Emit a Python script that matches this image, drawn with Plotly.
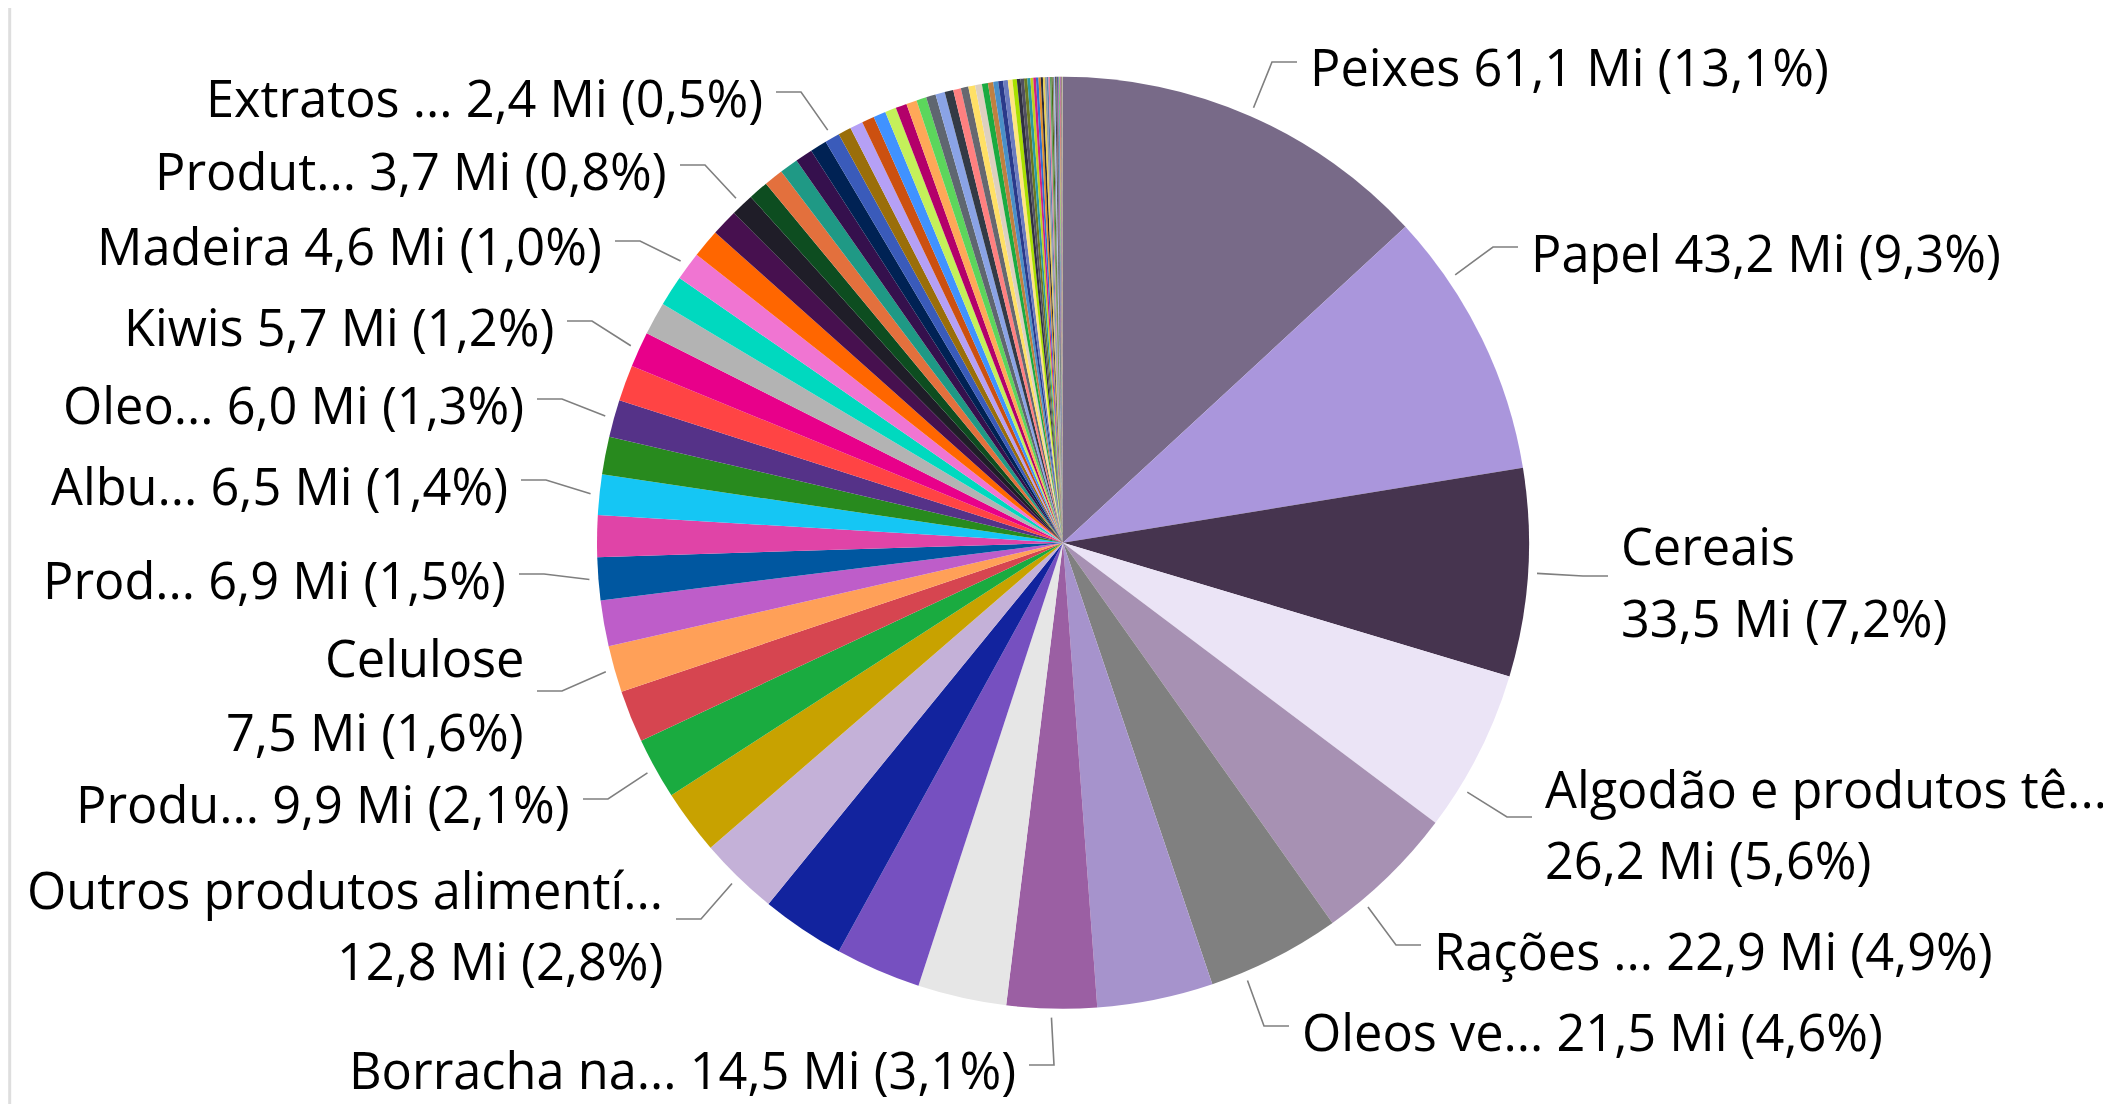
import math
import plotly.graph_objects as go

W, H = 2111, 1104
MARGEM = 8  # margem padrão do <body> na página gerada
FW, FH = W - MARGEM, H - MARGEM

# valores em milhões, na ordem das fatias (sentido horário a partir do topo)
valores = [61.1, 43.2, 33.5, 26.2, 22.9, 21.5, 18.7, 14.5, 14.3, 13.8,
           13.5, 12.84, 10.4, 9.9, 8.4, 7.5, 7.4, 6.9, 6.7, 6.5,
           6.1, 6.0, 5.8, 5.7, 5.3, 4.9, 4.6, 4.6, 4.3, 3.7,
           3.2, 3.1, 3.0, 2.8, 2.7, 2.4, 2.1, 2.1, 2.0, 2.0,
           1.8, 1.8, 1.7, 1.6, 1.55, 1.5, 1.4, 1.25, 1.2, 1.1,
           1.1, 0.97, 0.85, 0.8, 0.78, 0.76, 0.74, 0.7, 0.6, 0.55,
           0.52, 0.5, 0.46, 0.42, 0.4, 0.37, 0.34, 0.31, 0.29, 0.27,
           0.25, 0.23, 0.21, 0.2, 0.19, 0.17, 0.15, 0.13, 0.13, 0.12,
           0.1, 0.09, 0.08, 0.07, 0.06, 0.05, 0.04, 0.03, 0.02, 0.01]

# nomes como aparecem (truncados) nos rótulos; índice -> nome
nomes = {0: "Peixes", 1: "Papel", 2: "Cereais", 3: "Algodão e produtos tê...",
         4: "Rações ...", 5: "Oleos ve...", 7: "Borracha na...",
         11: "Outros produtos alimentí...", 13: "Produ...", 15: "Celulose",
         17: "Prod...", 19: "Albu...", 21: "Oleo...", 23: "Kiwis",
         26: "Madeira", 29: "Produt...", 35: "Extratos ..."}

cores = ["#786A88", "#AA96DC", "#46344F", "#EBE4F6", "#A791B3", "#808080", "#A693CC", "#9B5FA3", "#E6E6E6", "#7650C0",
         "#12239E", "#C4B1D8", "#C8A200", "#1AAB40", "#D64550", "#FFA058", "#BE5DC9", "#0057A0", "#E044A7", "#15C6F4",
         "#288A1E", "#553288", "#FF4444", "#E8008A", "#B3B3B3", "#00D9BF", "#F075D2", "#FF6600", "#47104F", "#1F1D28",
         "#0D4D20", "#E3703D", "#1F9985", "#35104D", "#002254", "#3A5BBA", "#9A6E0A", "#B5A0F5", "#CC5010", "#4092FF",
         "#C4F05A", "#B3006A", "#FFA858", "#5CD65C", "#5F6670", "#8AA3E6", "#333A45", "#FF8080", "#666870", "#FFE066",
         "#DDD0C0", "#1AAB40", "#C08040", "#4A90C8", "#2A3A8A", "#6B7BBF", "#FFE580", "#A8E000", "#303040", "#505060",
         "#6B7B20"]
cores_resto = ["#4A6A10", "#8A8A8A", "#A8B8F0", "#3A3A48", "#7A5A5A", "#1F5A6A", "#B050B0", "#2A9AA0", "#C0D020",
               "#D02080", "#3070D0", "#E0902A", "#28283A", "#E8D050", "#9A9A9A", "#5A80B0", "#E080A0", "#60A060"]
while len(cores) < len(valores):
    cores.append(cores_resto[len(cores) % len(cores_resto)])

# geometria da pizza (px da tela)
CX, CY, R = 1063, 542.8, 466
FONTE = dict(family="Segoe UI, Open Sans, sans-serif", size=50.5, color="#000000")
COR_LINHA = "#7F7F7F"

# posição dos rótulos: lado, x do texto, y de cada linha, y da linha guia, fração dentro da fatia
rotulos = {
    0: ("d", 1308, [67], 62, 0.5),
    1: ("d", 1529, [252], 247, 0.25),
    2: ("d", 1619, [545, 617], 576, 0.5),
    3: ("d", 1543, [788, 859], 817, 0.74),
    4: ("d", 1432, [950], 945, 0.74),
    5: ("d", 1300, [1031], 1026, 0.75),
    7: ("e", 1018, [1069], 1065, 0.5),
    11: ("e", 665, [889, 960], 919, 0.5),
    13: ("e", 572, [804], 799, 0.5),
    15: ("e", 526, [657, 731], 691, 0.5),
    17: ("e", 508, [579], 574, 0.5),
    19: ("e", 510, [485], 480, 0.5),
    21: ("e", 526, [404], 399, 0.5),
    23: ("e", 556, [326], 321, 0.5),
    26: ("e", 604, [246], 241, 0.5),
    29: ("e", 669, [170], 165, 0.5),
    35: ("e", 765, [97], 92, 0.5),
}


def px(x):
    return (x - MARGEM) / FW


def py(y):
    return 1 - (y - MARGEM) / FH


def fmt(v):
    return f"{v:.1f}".replace(".", ",")


total = sum(valores)
inicio = [sum(valores[:i]) for i in range(len(valores))]

fig = go.Figure(go.Pie(
    values=valores,
    sort=False,
    direction="clockwise",
    rotation=0,
    marker=dict(colors=cores, line=dict(width=0)),
    textinfo="none",
    hoverinfo="skip",
    showlegend=False,
    domain=dict(x=[px(CX - R), px(CX + R)], y=[py(CY + R), py(CY - R)]),
))

anotacoes = []
formas = []
for i, (lado, tx, linhas_y, guia_y, frac) in rotulos.items():
    v = valores[i]
    valor_txt = f"{fmt(v)} Mi ({fmt(100 * v / total)}%)"
    if len(linhas_y) == 2:
        textos = [nomes[i], valor_txt]
    else:
        textos = [f"{nomes[i]} {valor_txt}"]
    for t, ly in zip(textos, linhas_y):
        anotacoes.append(dict(
            text=t, x=px(tx), y=py(ly), xref="paper", yref="paper",
            xanchor="left" if lado == "d" else "right", yanchor="middle",
            showarrow=False, font=FONTE,
        ))

    # linha guia: da borda da fatia até o texto
    ang = 2 * math.pi * (inicio[i] + frac * v) / total
    sx = CX + (R + 9) * math.sin(ang)
    sy = CY - (R + 9) * math.cos(ang)
    if lado == "d":
        bx, ex = tx - 36, tx - 11
    else:
        bx, ex = tx + 36, tx + 11
    formas.append(dict(
        type="path", xref="paper", yref="paper",
        path=f"M {px(sx)} {py(sy)} L {px(bx)} {py(guia_y)} L {px(ex)} {py(guia_y)}",
        line=dict(color=COR_LINHA, width=1.6),
    ))

# borda fina à esquerda
formas.append(dict(type="line", xref="paper", yref="paper", x0=0.0008, x1=0.0008, y0=0, y1=1,
                   line=dict(color="#DEDEDE", width=3)))

fig.update_layout(
    width=FW, height=FH,
    margin=dict(l=0, r=0, t=0, b=0),
    paper_bgcolor="white",
    plot_bgcolor="white",
    annotations=anotacoes,
    shapes=formas,
)

fig.write_html("out.html")
